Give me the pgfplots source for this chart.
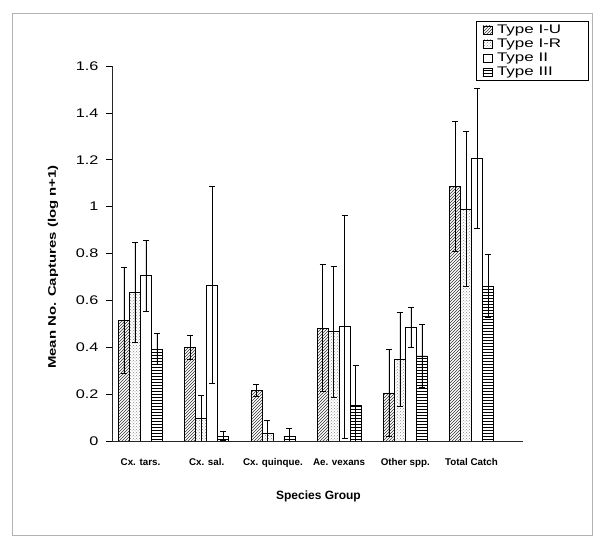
\documentclass[border=0pt]{standalone}
\usepackage{fontspec}
\setmainfont{Liberation Sans}
\newfontfamily\widesans[FakeStretch=1.3]{Liberation Sans}
\newfontfamily\widersans[FakeStretch=1.36]{Liberation Sans}
\usepackage{pgfplots}
\pgfplotsset{compat=1.18}
\usepackage{pgfplotstable}
\usetikzlibrary{patterns}

\pgfplotstableread{
x v e
0 0.515 0.225
1 0.400 0.050
2 0.215 0.025
3 0.482 0.270
4 0.205 0.185
5 1.085 0.277
}\typeIU
\pgfplotstableread{
x v e
0 0.634 0.215
1 0.095 0.100
2 0.033 0.056
3 0.466 0.280
4 0.347 0.200
5 0.990 0.330
}\typeIR
\pgfplotstableread{
x v e
0 0.705 0.153
1 0.665 0.420
2 0.000 0.000
3 0.488 0.476
4 0.485 0.087
5 1.206 0.300
}\typeII
\pgfplotstableread{
x v e
0 0.393 0.065
1 0.022 0.021
2 0.020 0.035
3 0.152 0.173
4 0.363 0.135
5 0.662 0.134
}\typeIII

\newcommand{\legtxt}[1]{\hspace*{3pt}\fontsize{12.5}{13}\widersans #1\hspace*{22pt}}

\begin{document}
\begin{tikzpicture}
\useasboundingbox (0,0) rectangle (600pt,548pt);
\draw[gray!60, line width=0.8pt] (12pt,13pt) rectangle (592pt,535pt);
\begin{axis}[
  at={(112pt,107pt)}, anchor=south west,
  scale only axis, width=411pt, height=375pt,
  xmin=-0.4305, xmax=5.778, ymin=0, ymax=1.6,
  axis x line=bottom, axis y line=left,
  axis line style={-, line width=0.7pt, black!85},
  ybar=0pt, bar width=11pt,
  xtick={0,1,2,3,4,5},
  xticklabels={Cx. tars., Cx. sal., Cx. quinque., Ae. vexans, Other spp., Total Catch},
  x tick style={draw=none},
  xticklabel style={font=\fontsize{9.8}{11}\selectfont\bfseries, anchor=base, yshift=-19pt},
  ytick={0,0.2,0.4,0.6,0.8,1,1.2,1.4,1.6},
  yticklabels={0,0.2,0.4,0.6,0.8,1,1.2,1.4,1.6},
  tick align=outside, major tick length=6pt,
  y tick style={black, line width=0.6pt},
  yticklabel style={font=\fontsize{12.5}{14}\widesans, anchor=east, xshift=-4pt},
  xlabel={Species Group},
  xlabel style={at={(axis description cs:0.5024,-0.1467)}, anchor=center, font=\fontsize{12}{14}\selectfont\bfseries},
  ylabel={Mean No. Captures (log n+1)},
  ylabel style={at={(axis description cs:-0.1436,0.464)}, anchor=center, rotate=0, font=\fontsize{11}{13}\widersans\bfseries},
  clip=true,
  legend style={at={(axis description cs:0.886,1.12)}, anchor=north west, draw=black, line width=0.6pt,
    inner xsep=3pt, inner ysep=1.5pt, row sep=0pt,
    cells={anchor=west}},
  legend image code/.code={\path (0pt,0pt); \draw[#1, line width=0.5pt] (3pt,-4pt) rectangle (12pt,4pt);},
  error bars/y dir=both, error bars/y explicit,
  error bars/error mark options={black, line width=0.6pt, mark size=3pt, rotate=90},
  error bars/error bar style={black, line width=0.6pt},
]
\addplot[draw=black, line width=0.6pt, pattern=north east lines, pattern color=black!80] table[x=x, y=v, y error=e] {\typeIU};
\addlegendentry{\legtxt{Type I-U}}
\addplot[draw=black, line width=0.6pt, pattern=crosshatch dots, pattern color=black!45] table[x=x, y=v, y error=e] {\typeIR};
\addlegendentry{\legtxt{Type I-R}}
\addplot[draw=black, line width=0.6pt, fill=white] table[x=x, y=v, y error=e] {\typeII};
\addlegendentry{\legtxt{Type II}}
\addplot[draw=black, line width=0.6pt, pattern=horizontal lines, pattern color=black] table[x=x, y=v, y error=e] {\typeIII};
\addlegendentry{\legtxt{Type III}}
\end{axis}
\end{tikzpicture}
\end{document}
